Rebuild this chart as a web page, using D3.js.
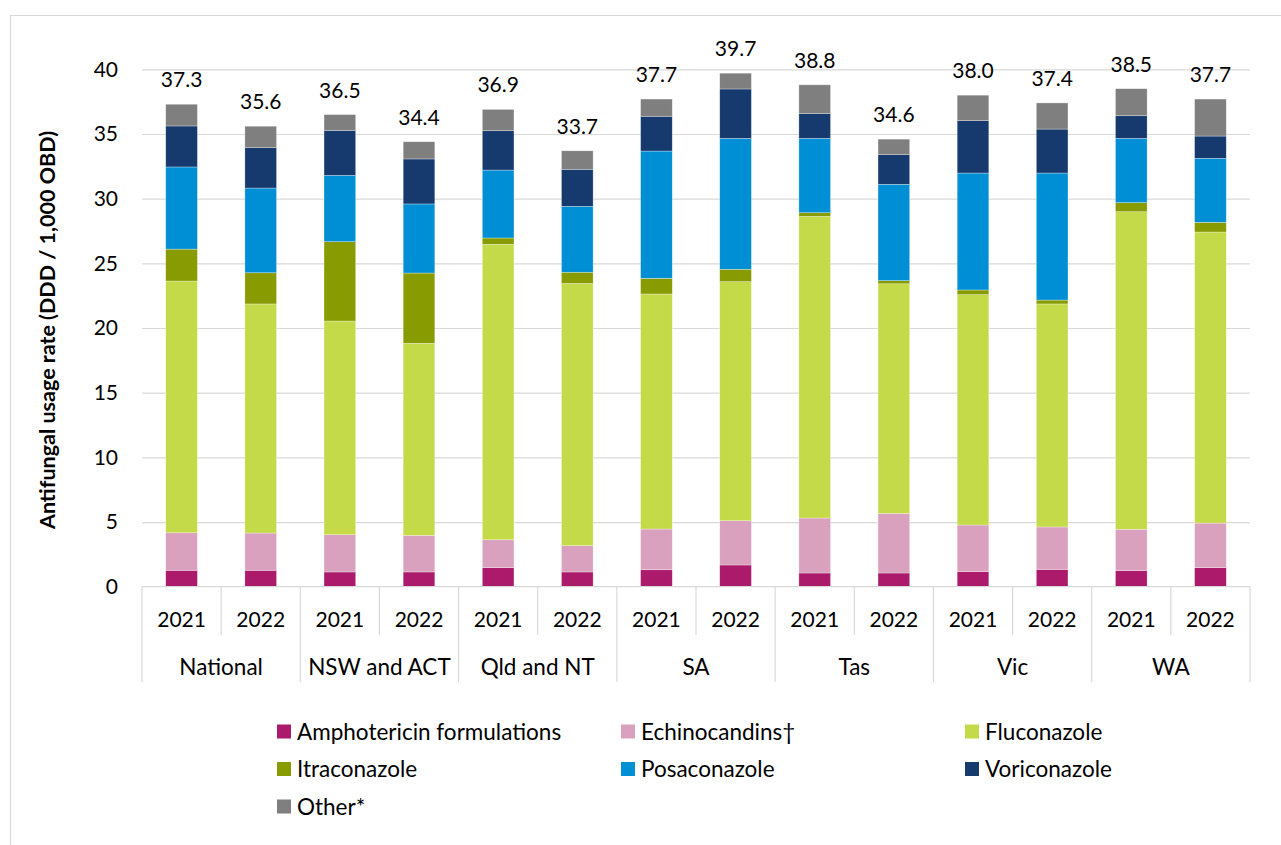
<!DOCTYPE html>
<html>
<head>
<meta charset="utf-8">
<script src="https://cdn.jsdelivr.net/npm/d3@7"></script>
<style>
  body { margin: 0; background: #fff; }
  svg { display: block; font-family: Lato, "Open Sans", sans-serif; }
</style>
</head>
<body>
<svg id="chart" width="1281" height="845"></svg>
<script>
// Data
const groups = ['National', 'NSW and ACT', 'Qld and NT', 'SA', 'Tas', 'Vic', 'WA'];
const years = ['2021', '2022'];
const seriesNames = ['Amphotericin formulations', 'Echinocandins\u2020', 'Fluconazole',
                     'Itraconazole', 'Posaconazole', 'Voriconazole', 'Other*'];
const seriesColors = ['#ab1a6b', '#d9a1bd', '#c5da48', '#889b00', '#008fd5', '#173a6e', '#7f7f7f'];

// one value per bar: National 2021, National 2022, NSW 2021, ...
const amphotericin = [1.27, 1.27, 1.14, 1.14, 1.47, 1.14, 1.31, 1.68, 1.06, 1.06, 1.16, 1.34, 1.24, 1.47];
const echinocandins = [2.90, 2.88, 2.88, 2.83, 2.16, 2.03, 3.15, 3.42, 4.25, 4.61, 3.61, 3.28, 3.20, 3.45];
const fluconazole = [19.46, 17.71, 16.52, 14.85, 22.84, 20.28, 18.17, 18.48, 23.32, 17.75, 17.81, 17.24, 24.55, 22.50];
const itraconazole = [2.47, 2.41, 6.13, 5.43, 0.49, 0.86, 1.21, 0.96, 0.28, 0.24, 0.36, 0.30, 0.70, 0.75];
const posaconazole = [6.35, 6.55, 5.13, 5.34, 5.25, 5.10, 9.84, 10.12, 5.75, 7.45, 9.04, 9.82, 4.97, 4.95];
const voriconazole = [3.17, 3.12, 3.48, 3.48, 3.04, 2.86, 2.69, 3.82, 1.91, 2.29, 4.05, 3.40, 1.75, 1.72];
const other = [1.68, 1.66, 1.22, 1.33, 1.65, 1.43, 1.33, 1.22, 2.23, 1.20, 1.97, 2.02, 2.09, 2.86];
const totals = [37.3, 35.6, 36.5, 34.4, 36.9, 33.7, 37.7, 39.7, 38.8, 34.6, 38.0, 37.4, 38.5, 37.7];
const yTicks = [0, 5, 10, 15, 20, 25, 30, 35, 40];

const seriesValues = [amphotericin, echinocandins, fluconazole, itraconazole, posaconazole, voriconazole, other];

// Build rows for the stack
const rows = [];
groups.forEach((g, gi) => {
    years.forEach((yr, yi) => {
        const i = gi * years.length + yi;
        const row = { key: g + '|' + yr, group: g, year: yr, total: totals[i] };
        seriesNames.forEach((s, si) => { row[s] = seriesValues[si][i]; });
        rows.push(row);
    });
});

const svg = d3.select('#chart');
const gridColor = '#d9d9d9';
const numSize = '21px';   // numbers (ticks, years, totals)
const textSize = '22.5px'; // words (groups, legend)

// Outer frame
svg.append('path')
    .attr('d', 'M10.5,845 L10.5,15.5 L1281,15.5')
    .attr('fill', 'none')
    .attr('stroke', gridColor)
    .attr('stroke-width', 1.2);

const plotLeft = 142, plotRight = 1250, plotTop = 69.3, plotBottom = 586.7;

const x = d3.scaleBand()
    .domain(rows.map(d => d.key))
    .range([plotLeft, plotRight])
    .paddingInner(0.6)
    .paddingOuter(0.3);

const y = d3.scaleLinear()
    .domain([0, 40])
    .range([plotBottom, plotTop]);

// Gridlines + y tick labels
const yAxis = svg.append('g')
    .attr('transform', `translate(${plotLeft},0)`)
    .call(d3.axisLeft(y).tickValues(yTicks).tickSize(-(plotRight - plotLeft)).tickPadding(24));
yAxis.select('.domain').remove();
yAxis.selectAll('.tick line').attr('stroke', gridColor).attr('stroke-width', 1.2);
yAxis.selectAll('.tick text')
    .attr('fill', '#000')
    .style('font-family', 'Lato, sans-serif')
    .style('font-size', numSize);
yAxis.selectAll('.tick').filter(d => d === 0).select('line').remove();

// Y axis title
svg.append('text')
    .attr('transform', `translate(55,${(plotTop + plotBottom) / 2 + 2}) rotate(-90)`)
    .attr('text-anchor', 'middle')
    .style('font-weight', 'bold')
    .style('font-size', '21.5px')
    .text('Antifungal usage rate (DDD / 1,000 OBD)');

// Stacked bars
const stacked = d3.stack().keys(seriesNames)(rows);
const color = d3.scaleOrdinal().domain(seriesNames).range(seriesColors);

svg.append('g')
    .selectAll('g')
    .data(stacked)
    .join('g')
    .attr('fill', d => color(d.key))
    .selectAll('rect')
    .data(d => d)
    .join('rect')
    .attr('x', d => x(d.data.key))
    .attr('width', x.bandwidth())
    .attr('y', d => y(d[1]))
    .attr('height', d => y(d[0]) - y(d[1]))
    .attr('stroke', '#ffffff')
    .attr('stroke-opacity', 0.5)
    .attr('stroke-width', 0.6);

// Total labels
svg.append('g')
    .selectAll('text')
    .data(rows)
    .join('text')
    .attr('x', d => x(d.key) + x.bandwidth() / 2)
    .attr('y', d => y(d.total) - 17)
    .attr('text-anchor', 'middle')
    .style('font-size', numSize)
    .text(d => d.total.toFixed(1));

// Multi-level category axis
const step = x.step();
const axisG = svg.append('g');
axisG.append('line')
    .attr('x1', plotLeft).attr('x2', plotRight)
    .attr('y1', plotBottom).attr('y2', plotBottom)
    .attr('stroke', gridColor).attr('stroke-width', 1.2);

// separators: short ones between years, long ones between groups
d3.range(rows.length + 1).forEach(i => {
    const xi = plotLeft + i * step;
    const isGroupEdge = i % years.length === 0;
    axisG.append('line')
        .attr('x1', xi).attr('x2', xi)
        .attr('y1', plotBottom).attr('y2', isGroupEdge ? 682 : 635)
        .attr('stroke', gridColor).attr('stroke-width', 1.2);
});

axisG.selectAll('.year')
    .data(rows)
    .join('text')
    .attr('class', 'year')
    .attr('x', d => x(d.key) + x.bandwidth() / 2)
    .attr('y', 626.5)
    .attr('text-anchor', 'middle')
    .style('font-size', numSize)
    .text(d => d.year);

axisG.selectAll('.group')
    .data(groups)
    .join('text')
    .attr('class', 'group')
    .attr('x', (d, i) => plotLeft + (i + 0.5) * step * years.length)
    .attr('y', 674.5)
    .attr('text-anchor', 'middle')
    .style('font-size', textSize)
    .text(d => d);

// Legend: three columns
const legendCols = [277, 621, 965];
const legendRows = [731.5, 769, 806.5];
const legend = svg.append('g')
    .selectAll('g')
    .data(seriesNames)
    .join('g')
    .attr('transform', (d, i) => `translate(${legendCols[i % 3]},${legendRows[Math.floor(i / 3)]})`);

legend.append('rect')
    .attr('x', 0).attr('y', -7)
    .attr('width', 14).attr('height', 14)
    .attr('fill', d => color(d));

legend.append('text')
    .attr('x', 20)
    .attr('y', 8)
    .style('font-size', textSize)
    .text(d => d);
</script>
</body>
</html>
